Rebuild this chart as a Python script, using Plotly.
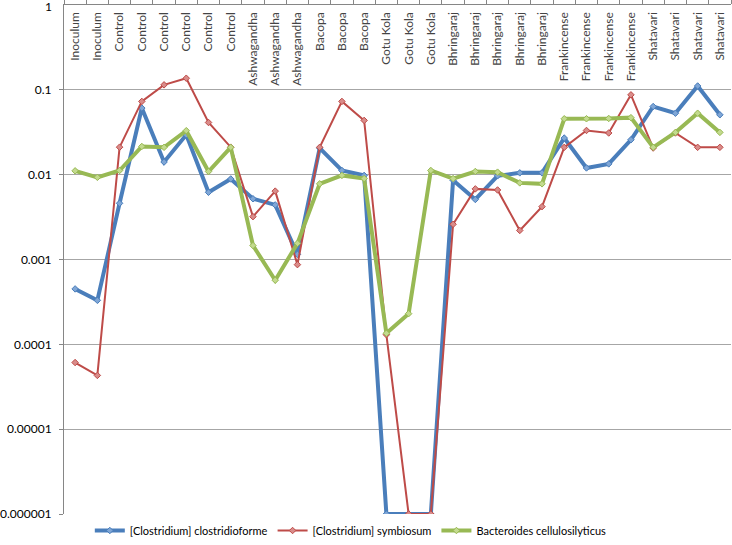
import plotly.graph_objects as go

categories = ["Inoculum", "Inoculum", "Control", "Control", "Control", "Control", "Control", "Control",
              "Ashwagandha", "Ashwagandha", "Ashwagandha", "Bacopa", "Bacopa", "Bacopa",
              "Gotu Kola", "Gotu Kola", "Gotu Kola",
              "Bhringaraj", "Bhringaraj", "Bhringaraj", "Bhringaraj", "Bhringaraj",
              "Frankincense", "Frankincense", "Frankincense", "Frankincense",
              "Shatavari", "Shatavari", "Shatavari", "Shatavari"]

clostridioforme = [0.00045, 0.00033, 0.0046, 0.061, 0.0141, 0.0295, 0.0062, 0.0089,
                   0.0052, 0.0044, 0.00115, 0.0206, 0.0112, 0.0098,
                   0.000001, 0.000001, 0.000001,
                   0.0086, 0.0051, 0.0097, 0.0105, 0.0105,
                   0.027, 0.012, 0.0134, 0.0258,
                   0.0636, 0.053, 0.111, 0.0508]

symbiosum = [0.000061, 0.000043, 0.0211, 0.073, 0.1145, 0.137, 0.0412, 0.0211,
             0.0032, 0.0064, 0.00087, 0.021, 0.073, 0.0436,
             0.00013, 0.000001, 0.000001,
             0.0026, 0.0068, 0.0066, 0.0022, 0.0042,
             0.021, 0.0332, 0.031, 0.0873,
             0.0206, 0.031, 0.021, 0.021]

cellulosilyticus = [0.0111, 0.0093, 0.0112, 0.0215, 0.021, 0.033, 0.0109, 0.021,
                    0.00146, 0.00057, 0.00155, 0.0078, 0.0098, 0.0090,
                    0.000135, 0.00023, 0.0112,
                    0.0090, 0.0109, 0.0107, 0.0080, 0.0078,
                    0.0456, 0.0456, 0.046, 0.047,
                    0.021, 0.0315, 0.053, 0.0315]

y_tickvals = [1, 0.1, 0.01, 0.001, 0.0001, 0.00001, 0.000001]
y_ticktext = ["1", "0.1", "0.01", "0.001", "0.0001", "0.00001", "0.000001"]

x = list(range(len(categories)))

series = [
    ("[Clostridium] clostridioforme", clostridioforme, "#4A7EBB", "#7FA6D6", 4),
    ("[Clostridium] symbiosum", symbiosum, "#BE4B48", "#D98C8A", 2),
    ("Bacteroides cellulosilyticus", cellulosilyticus, "#98B954", "#C3DA8E", 4),
]

fig = go.Figure()
for name, vals, col, mcol, w in series:
    fig.add_trace(go.Scatter(
        x=x, y=vals, name=name, mode="lines+markers",
        line=dict(color=col, width=w),
        marker=dict(symbol="diamond", size=5, color=mcol, line=dict(color=col, width=1)),
    ))

fig.update_layout(
    width=732, height=545,
    paper_bgcolor="white", plot_bgcolor="white",
    margin=dict(l=64, r=1, t=5, b=31),
    font=dict(family="Lato, Liberation Sans, sans-serif", size=12, color="#000000"),
    legend=dict(orientation="h", x=0.43, xanchor="center",
                yref="container", y=0.0, yanchor="bottom",
                font=dict(size=11), itemwidth=30, tracegroupgap=0,
                bgcolor="rgba(0,0,0,0)"),
    showlegend=True,
)

# top-left "1" tick text (Plotly hides the corner tick label when the x labels sit inside)
fig.add_annotation(xref="paper", yref="y", x=0, y=0, text=y_ticktext[0], showarrow=False,
                   xanchor="right", yanchor="middle", xshift=-10, yshift=-1,
                   font=dict(size=12, color="#000000"))

fig.update_xaxes(
    side="top", range=[-0.5, len(categories) - 0.5], automargin=False,
    tickmode="array", tickvals=x, ticktext=categories, tickangle=-90,
    ticklabelposition="inside", ticks="",
    showgrid=False, zeroline=False,
    showline=True, linecolor="#868686", linewidth=1,
    tickfont=dict(size=12),
    minor=dict(tickmode="array", tickvals=[i - 0.5 for i in range(len(categories) + 1)],
               ticks="outside", ticklen=5, tickcolor="#868686", showgrid=False),
    fixedrange=True,
)

fig.update_yaxes(
    type="log", range=[-6, 0], automargin=False,
    tickmode="array", tickvals=y_tickvals, ticktext=y_ticktext,
    ticks="outside", ticklen=4, tickcolor="#868686", ticklabelstandoff=5,
    showgrid=True, gridcolor="#A6A6A6", gridwidth=1,
    showline=True, linecolor="#868686", linewidth=1,
    zeroline=False, tickfont=dict(size=12), fixedrange=True,
)

fig.write_html("out.html", config={"displayModeBar": False},
               post_script="document.body.style.margin='0';document.body.style.padding='0';")
